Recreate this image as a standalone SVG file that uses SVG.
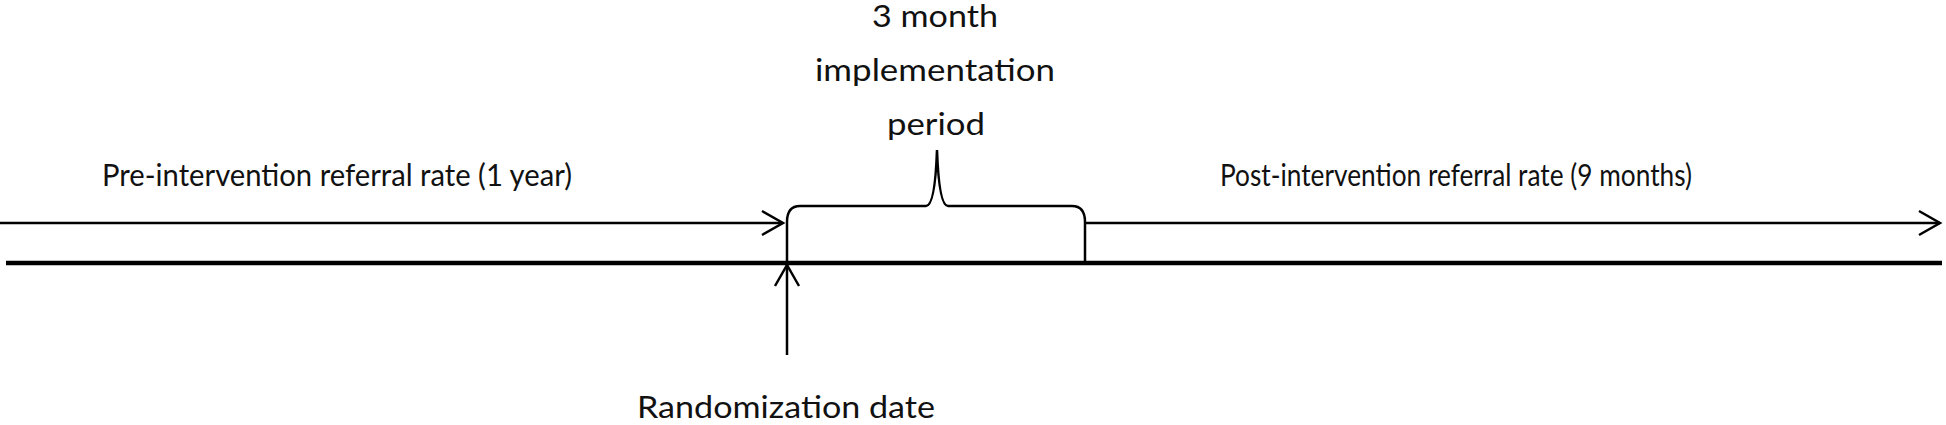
<svg xmlns="http://www.w3.org/2000/svg" width="1946" height="425" viewBox="0 0 1946 425">
  <defs>
    <style>
      .lbl { font-family: Lato, "Liberation Sans", Arial, sans-serif; font-size: 30.5px; fill: #111; }
      .thin { stroke: #000; stroke-width: 2.5; fill: none; }
      .thick { stroke: #000; stroke-width: 4.5; fill: none; }
    </style>
    <marker id="open" markerUnits="userSpaceOnUse" markerWidth="26" markerHeight="28" refX="21" refY="12" orient="auto" viewBox="-2 -2 26 28">
      <path d="M0,0 L21,12 L0,24" fill="none" stroke="#000" stroke-width="2.5"/>
    </marker>
  </defs>
  <rect width="1946" height="425" fill="#fff"/>

  <g id="timeline">
    <line class="thick" x1="6" y1="263" x2="1942" y2="263"/>
  </g>

  <g id="connectors">
    <line class="thin" x1="0" y1="223" x2="783" y2="223" marker-end="url(#open)"/>
    <line class="thin" x1="1085" y1="223" x2="1940" y2="223" marker-end="url(#open)"/>
    <line class="thin" x1="787" y1="355" x2="787" y2="265" marker-end="url(#open)"/>
  </g>

  <g id="bracket">
    <path class="thin" d="M787,263 L787,222 Q787,206 800,206 L926,206 Q935,206 937,150 Q939,206 948,206 L1072,206 Q1085,206 1085,222 L1085,263"/>
  </g>

  <g id="pre">
    <text class="lbl" x="102" y="186" textLength="470" lengthAdjust="spacingAndGlyphs">Pre-intervention referral rate (1 year)</text>
  </g>
  <g id="post">
    <text class="lbl" x="1220" y="186" textLength="472" lengthAdjust="spacingAndGlyphs">Post-intervention referral rate (9 months)</text>
  </g>
  <g id="implementation">
    <text class="lbl" x="935" y="27" text-anchor="middle" textLength="126" lengthAdjust="spacingAndGlyphs">3 month</text>
    <text class="lbl" x="935" y="81" text-anchor="middle" textLength="240" lengthAdjust="spacingAndGlyphs">implementation</text>
    <text class="lbl" x="936" y="135" text-anchor="middle" textLength="98" lengthAdjust="spacingAndGlyphs">period</text>
  </g>
  <g id="randomization">
    <text class="lbl" x="637" y="418" textLength="298" lengthAdjust="spacingAndGlyphs">Randomization date</text>
  </g>
</svg>
